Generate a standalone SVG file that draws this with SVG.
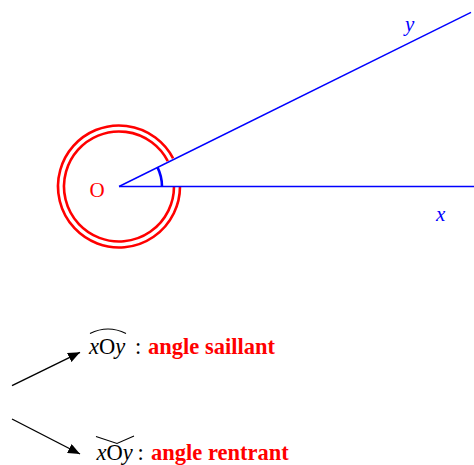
<svg xmlns="http://www.w3.org/2000/svg" width="474" height="465" viewBox="0 0 474 465">
<style>
.ray{stroke:#0000ff;stroke-width:1.4;fill:none}
.red{stroke:#ff0000;stroke-width:2.6;fill:none}
.arr{stroke:#000;stroke-width:1.4;fill:none}
.lbl{font-family:"Liberation Serif","Times New Roman",serif;font-style:italic;fill:#0000ff;font-size:21px}
.math{font-family:"Liberation Serif","Times New Roman",serif;font-size:22.5px;fill:#000}
.bold{font-family:"Liberation Serif","Times New Roman",serif;font-size:22.5px;font-weight:bold;fill:#ff0000}
</style>
<defs>
<marker id="ah" markerWidth="12" markerHeight="10" refX="12" refY="5" orient="auto" markerUnits="userSpaceOnUse">
<path d="M0,0 L12,5 L0,10 Z" fill="#000"/>
</marker>
</defs>
<g id="reflex-angle">
<path class="red" d="M173.1,158.3 A61,61 0 1 0 180,186.5"/>
<path class="red" d="M167.8,161.1 A55,55 0 1 0 174,186.5"/>
</g>
<g id="rays">
<line class="ray" x1="119" y1="186.5" x2="474" y2="186.5"/>
<line class="ray" x1="119" y1="186.5" x2="471" y2="12.3"/>
<path d="M162,186.5 A43,43 0 0 0 157.5,167.4" stroke="#0000ff" stroke-width="2.6" fill="none"/>
</g>
<g id="labels">
<text x="89.5" y="196.5" font-family="Liberation Serif,serif" font-size="21" fill="#ff0000">O</text>
<text class="lbl" x="405" y="31">y</text>
<text class="lbl" x="436" y="221">x</text>
</g>
<g id="connectors">
<line class="arr" x1="12" y1="385.7" x2="80" y2="352.3" marker-end="url(#ah)"/>
<line class="arr" x1="12" y1="419" x2="80" y2="454" marker-end="url(#ah)"/>
</g>
<g id="saillant">
<path d="M90,333.5 Q108,324.5 126,333.5" stroke="#000" stroke-width="1.1" fill="none"/>
<text class="math" x="89" y="353.5"><tspan font-style="italic">x</tspan>O<tspan font-style="italic">y</tspan></text>
<text class="math" x="135" y="353.5">:</text>
<text class="bold" x="148" y="353.5">angle saillant</text>
</g>
<g id="rentrant">
<polyline points="96,436.5 117,443.5 134,436" stroke="#000" stroke-width="1.1" fill="none"/>
<text class="math" x="96.5" y="460"><tspan font-style="italic">x</tspan>O<tspan font-style="italic">y</tspan></text>
<text class="math" x="137.5" y="460">:</text>
<text class="bold" x="151" y="460">angle rentrant</text>
</g>
</svg>
